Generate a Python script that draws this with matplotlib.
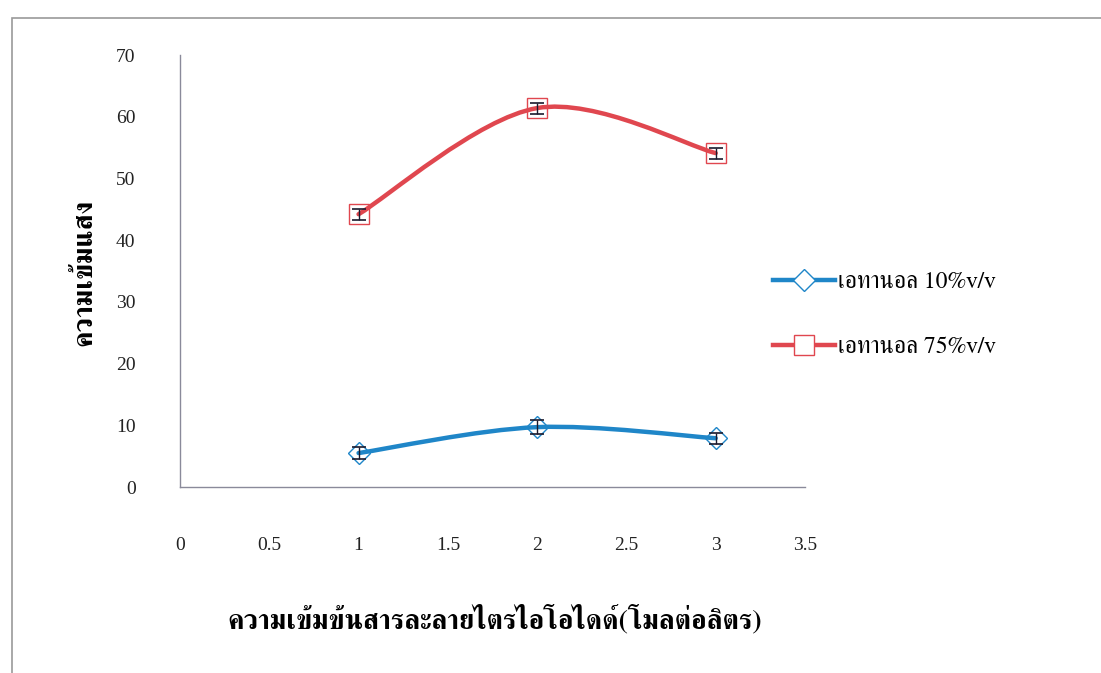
import matplotlib
matplotlib.use("Agg")
import matplotlib.pyplot as plt
from matplotlib.path import Path
from matplotlib.patches import PathPatch, Rectangle
from matplotlib.lines import Line2D
from matplotlib import font_manager
from matplotlib.ft2font import FT2Font

# ---- data ----
x_vals = [1, 2, 3]
eth10 = [5.5, 9.7, 7.9]
eth10_err = [1.0, 1.1, 0.9]
eth75 = [44.2, 61.4, 54.1]
eth75_err = [0.9, 0.9, 0.9]
series_labels = ["เอทานอล 10%v/v", "เอทานอล 75%v/v"]
x_label = "ความเข้มข้นสารละลายไตรไอโอไดด์(โมลต่อลิตร)"
y_label = "ความเข้มแสง"
x_ticks = [0, 0.5, 1, 1.5, 2, 2.5, 3, 3.5]
y_ticks = [0, 10, 20, 30, 40, 50, 60, 70]

# find a font that has Thai glyphs
thai_fonts = []
for f in font_manager.fontManager.ttflist:
    try:
        cm = FT2Font(f.fname).get_charmap()
        if 0x0E01 in cm and 0x0E40 in cm:
            thai_fonts.append(f.name)
    except Exception:
        pass
thai_fonts = list(dict.fromkeys(thai_fonts))
serif_pref = [n for n in thai_fonts if "Serif" in n] + thai_fonts
fam = ["Liberation Serif"] + serif_pref + ["DejaVu Sans"]
thai_fam = serif_pref + ["Liberation Serif", "DejaVu Sans"]
plt.rcParams["font.family"] = fam

fig = plt.figure(figsize=(11.01, 6.73), dpi=100)
fig.patches.append(Rectangle((12/1101, -0.1), 1.2, 1 - 18/673 + 0.1, transform=fig.transFigure,
                             fill=False, edgecolor="#9a9a9a", lw=1.2))
ax = fig.add_axes([180/1101, 1 - 487/673, (805-180)/1101, (487-55)/673])

def smooth_path(xs, ys, t=1/6):
    # Catmull-Rom style bezier (Excel smoothed line)
    n = len(xs)
    verts = [(xs[0], ys[0])]
    codes = [Path.MOVETO]
    for i in range(n - 1):
        x0, y0 = (xs[i-1], ys[i-1]) if i > 0 else (xs[i], ys[i])
        x1, y1 = xs[i], ys[i]
        x2, y2 = xs[i+1], ys[i+1]
        x3, y3 = (xs[i+2], ys[i+2]) if i + 2 < n else (x2, y2)
        c1 = (x1 + (x2 - x0) * t, y1 + (y2 - y0) * t)
        c2 = (x2 - (x3 - x1) * t, y2 - (y3 - y1) * t)
        verts += [c1, c2, (x2, y2)]
        codes += [Path.CURVE4] * 3
    return Path(verts, codes)

specs = [
    (eth10, eth10_err, "#1f86c8", "D", 11, series_labels[0]),
    (eth75, eth75_err, "#e0474f", "s", 14, series_labels[1]),
]
handles = []
for ys, err, col, mk, ms, lab in specs:
    ax.add_patch(PathPatch(smooth_path(x_vals, ys), fill=False, edgecolor=col, lw=3.2,
                           capstyle="round", zorder=2))
    ax.plot(x_vals, ys, linestyle="none", marker=mk, ms=ms, mfc="none", mec=col, mew=1.0, zorder=3)
    ax.errorbar(x_vals, ys, yerr=err, fmt="none", ecolor="#1a1a2e", elinewidth=1.0,
                capsize=5, capthick=1.2, zorder=4)
    handles.append(Line2D([], [], color=col, lw=3.2, marker=mk, ms=ms, mfc="white",
                          mec=col, mew=1.0))

ax.set_xlim(0, 3.5)
ax.set_ylim(0, 70)
ax.set_xticks(x_ticks)
ax.set_xticklabels([f"{v:g}" for v in x_ticks])
ax.set_yticks(y_ticks)
ax.tick_params(axis="both", length=0, labelsize=14, colors="#222222")
ax.tick_params(axis="x", pad=36)
ax.tick_params(axis="y", pad=32)
for s in ["top", "right"]:
    ax.spines[s].set_visible(False)
for s in ["left", "bottom"]:
    ax.spines[s].set_color("#8a8a9a")
    ax.spines[s].set_linewidth(1.0)

fig.text(495/1101, 1 - 620/673, x_label, ha="center", va="center", fontsize=20,
         fontweight="bold", family=thai_fam)
fig.text(85/1101, 1 - 272/673, y_label, ha="center", va="center", fontsize=20,
         fontweight="bold", rotation=90, family=thai_fam)

leg = fig.legend(handles, series_labels, loc="upper left", bbox_to_anchor=(752/1101, 1 - 250/673),
                 frameon=False, handlelength=2.6, handletextpad=0.15,
                 labelspacing=1.85, prop={"family": thai_fam, "size": 17})

fig.savefig("out.png", dpi=100)
